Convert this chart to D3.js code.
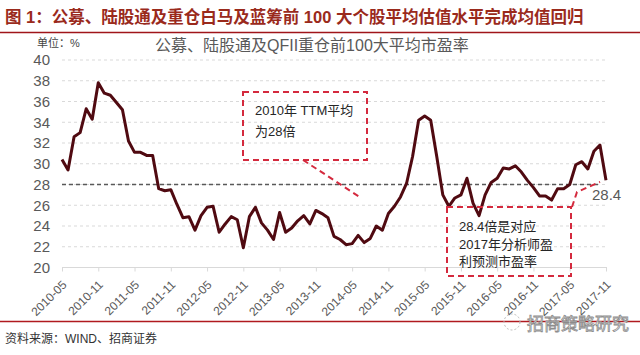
<!DOCTYPE html>
<html>
<head>
<meta charset="utf-8">
<script src="https://cdn.jsdelivr.net/npm/d3@7"></script>
<style>
  html, body { margin: 0; padding: 0; background: #fff; }
  svg { display: block; }
</style>
</head>
<body>
<svg id="chart" width="640" height="355"></svg>
<script>
// ---- data ----
const months = [];
(function () {
  for (let y = 2010, m = 5; y < 2017 || (y === 2017 && m <= 11); ) {
    months.push(y + "-" + String(m).padStart(2, "0"));
    m++; if (m > 12) { m = 1; y++; }
  }
})();
const peValues = [
  30.4, 29.4, 32.6, 33.0, 35.3, 34.3, 37.8, 36.8, 36.6, 35.9,
  35.2, 32.2, 31.1, 31.1, 30.8, 30.8, 27.6, 27.4, 27.5, 26.1,
  24.8, 24.9, 23.6, 25.0, 25.8, 25.9, 23.4, 24.2, 24.9, 24.6,
  21.9, 24.9, 25.8, 24.3, 23.6, 22.7, 25.3, 23.4, 23.8, 24.5,
  25.0, 24.2, 25.5, 25.2, 24.8, 23.0, 22.7, 22.2, 22.3, 23.1,
  22.4, 22.8, 24.0, 23.6, 25.2, 25.9, 26.8, 28.1, 30.7, 34.2,
  34.6, 34.2, 30.7, 27.0, 25.9, 26.7, 27.0, 28.6, 26.2, 25.0,
  27.0, 28.2, 28.6, 29.6, 29.5, 29.8, 29.2, 28.4, 27.7, 26.9,
  26.9, 26.5, 27.6, 27.6, 28.0, 29.9, 30.2, 29.5, 31.2, 31.8,
  28.4
];
const meanValue = 28;
const lastLabel = "28.4";
const xTickLabels = ["2010-05","2010-11","2011-05","2011-11","2012-05","2012-11","2013-05","2013-11",
                     "2014-05","2014-11","2015-05","2015-11","2016-05","2016-11","2017-05","2017-11"];
const yTicks = [20, 22, 24, 26, 28, 30, 32, 34, 36, 38, 40];
const figTitle = "图 1：公募、陆股通及重仓白马及蓝筹前 100 大个股平均估值水平完成均值回归";
const chartTitle = "公募、陆股通及QFII重仓前100大平均市盈率";
const unitLabel = "单位：%";
const note1 = ["2010年  TTM平均", "为28倍"];
const note2 = ["28.4倍是对应", "2017年分析师盈", "利预测市盈率"];
const sourceText = "资料来源：WIND、招商证券";
const watermark = "招商策略研究";

// ---- drawing ----
const svg = d3.select("#chart");
const latin = "'Liberation Sans', Arial, sans-serif";
const cjk = "'Liberation Sans', 'Noto Sans CJK SC', sans-serif";

const x = d3.scaleLinear().domain([0, peValues.length - 1]).range([62, 606]);
const y = d3.scaleLinear().domain([20, 40]).range([267.5, 60]);

// figure title
svg.append("text").attr("x", 5).attr("y", 23)
  .attr("font-family", cjk).attr("font-size", 16.5).attr("font-weight", "bold")
  .attr("fill", "#9a2a1c").text(figTitle);
svg.append("line").attr("x1", 0).attr("x2", 640).attr("y1", 32.5).attr("y2", 32.5)
  .attr("stroke", "#a0151a").attr("stroke-width", 1.5);

// unit + chart title
svg.append("text").attr("x", 37).attr("y", 47)
  .attr("font-family", cjk).attr("font-size", 11).attr("fill", "#444").text(unitLabel);
svg.append("text").attr("x", 155).attr("y", 51)
  .attr("font-family", cjk).attr("font-size", 16).attr("fill", "#595959").text(chartTitle);

// gridlines
svg.append("g").selectAll("line").data(yTicks.filter(v => v > 20)).join("line")
  .attr("x1", 62).attr("x2", 607)
  .attr("y1", d => y(d)).attr("y2", d => y(d))
  .attr("stroke", "#d9d9d9").attr("stroke-width", 1).attr("stroke-dasharray", "3,3");

// y axis
const yAxis = svg.append("g").attr("transform", "translate(50,0)")
  .call(d3.axisLeft(y).tickValues(yTicks).tickSize(0).tickPadding(0).tickFormat(d3.format("d")));
yAxis.select(".domain").remove();
yAxis.selectAll("text").attr("font-family", latin).attr("font-size", 15).attr("fill", "#595959");

// x axis
const tickIdx = xTickLabels.map(l => months.indexOf(l));
const xAxis = svg.append("g").attr("transform", "translate(0,267.5)")
  .call(d3.axisBottom(x).tickValues(tickIdx).tickSize(4).tickFormat((d, i) => xTickLabels[i]));
xAxis.select(".domain").attr("stroke", "#d9d9d9").attr("d", "M62,0H607");
xAxis.selectAll(".tick line").attr("stroke", "#d9d9d9");
xAxis.selectAll("text")
  .attr("font-family", latin).attr("font-size", 12).attr("fill", "#595959")
  .attr("text-anchor", "end").attr("dy", 0)
  .attr("transform", "translate(5,18) rotate(-45)").attr("y", 0).attr("x", 0);

// mean dashed line
svg.append("line").attr("x1", 62).attr("x2", 601)
  .attr("y1", y(meanValue)).attr("y2", y(meanValue))
  .attr("stroke", "#595959").attr("stroke-width", 1.5).attr("stroke-dasharray", "4,3");

// main line
const line = d3.line().x((d, i) => x(i)).y(d => y(d));
svg.append("path").datum(peValues).attr("d", line)
  .attr("fill", "none").attr("stroke", "#500a11").attr("stroke-width", 3)
  .attr("stroke-linejoin", "round");

// last value label
svg.append("text").attr("x", 592).attr("y", 200)
  .attr("font-family", latin).attr("font-size", 15).attr("fill", "#595959").text(lastLabel);

// annotations
const red = "#d42a3e";
const ann = svg.append("g").attr("fill", "none").attr("stroke", red)
  .attr("stroke-width", 2).attr("stroke-dasharray", "6,4");
ann.append("rect").attr("x", 243).attr("y", 92).attr("width", 124).attr("height", 68);
ann.append("path").attr("d", `M303,160L${x(49.5)},${y(26.7)}`);
ann.append("rect").attr("x", 447).attr("y", 207).attr("width", 124).attr("height", 69);
ann.append("path").attr("d", `M572,207L577,192L${x(90) - 6},${y(28.25)}`);

svg.append("g").selectAll("text").data(note1).join("text")
  .attr("x", 255).attr("y", (d, i) => 115 + i * 21)
  .attr("font-family", cjk).attr("font-size", 13).attr("fill", "#262626").text(d => d);
svg.append("g").selectAll("text").data(note2).join("text")
  .attr("x", 459).attr("y", (d, i) => 231 + i * 17.5)
  .attr("font-family", cjk).attr("font-size", 13).attr("fill", "#262626").text(d => d);

// bottom rule + source
svg.append("line").attr("x1", 0).attr("x2", 640).attr("y1", 321.5).attr("y2", 321.5)
  .attr("stroke", "#b01a1f").attr("stroke-width", 1.5);
svg.append("text").attr("x", 5).attr("y", 343)
  .attr("font-family", cjk).attr("font-size", 12).attr("fill", "#333").text(sourceText);

// watermark
const wm = svg.append("g");
wm.append("circle").attr("cx", 512).attr("cy", 322).attr("r", 8)
  .attr("fill", "none").attr("stroke", "#bbb").attr("stroke-width", 1).attr("stroke-dasharray", "2,2");
wm.append("text").attr("x", 527).attr("y", 330)
  .attr("font-family", cjk).attr("font-size", 17).attr("fill", "#fff")
  .attr("stroke", "#8c8c8c").attr("stroke-width", 0.8).text(watermark);
</script>
</body>
</html>
